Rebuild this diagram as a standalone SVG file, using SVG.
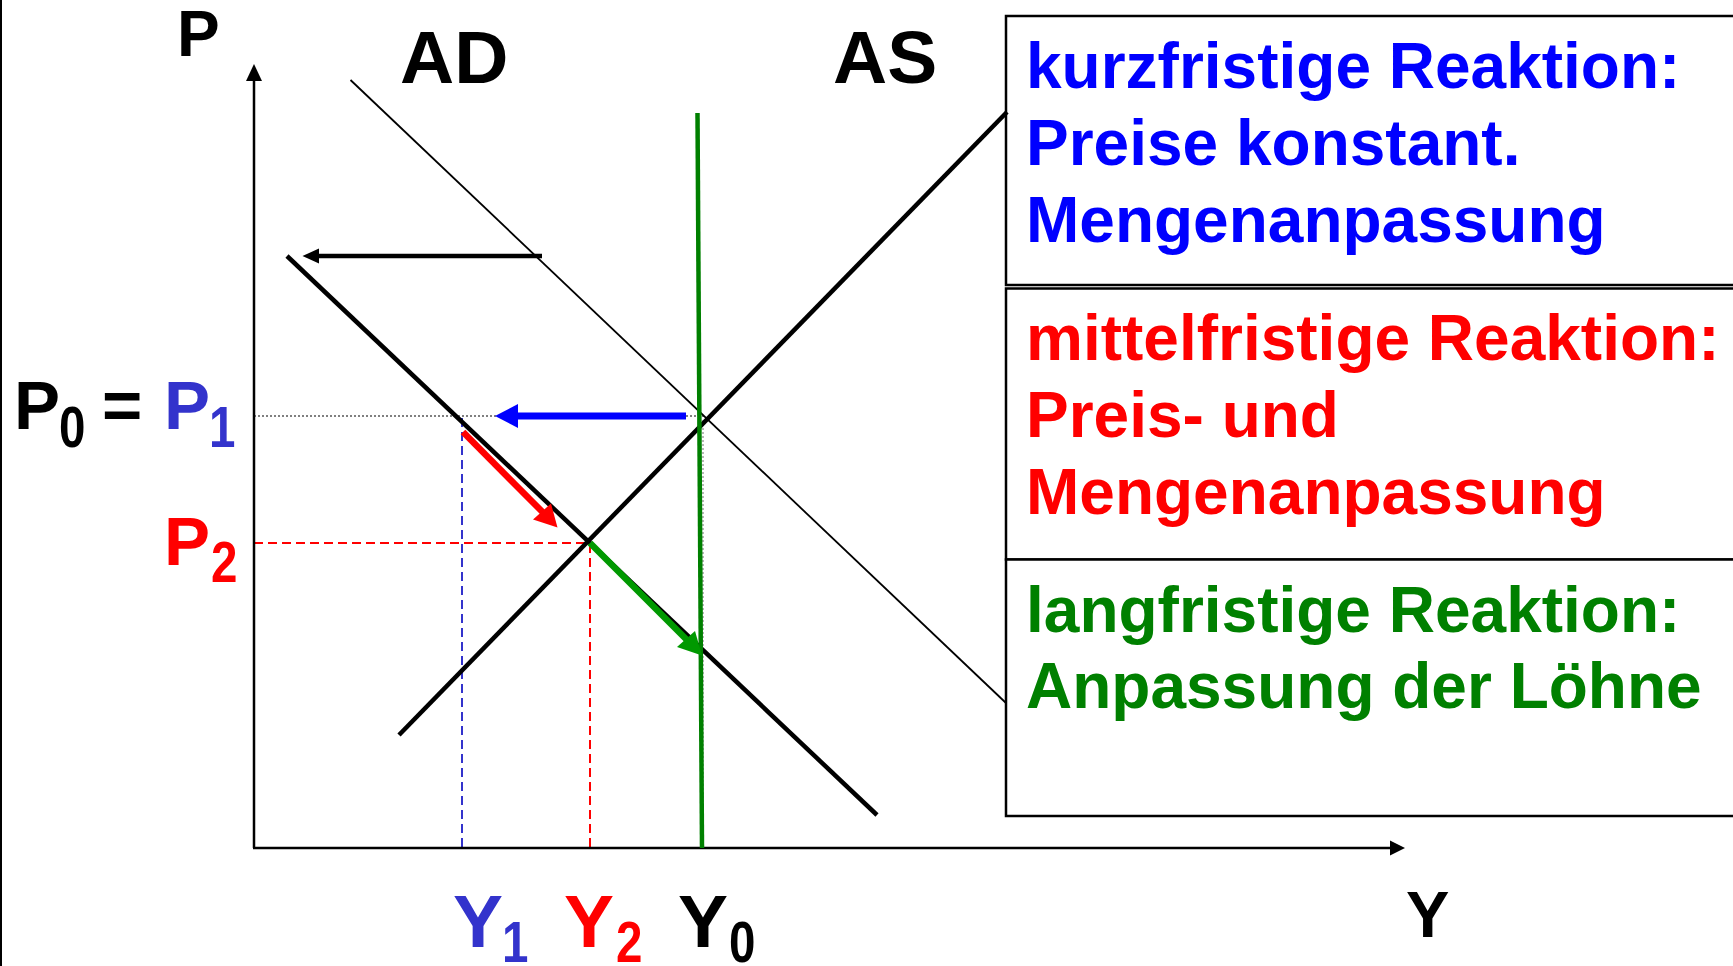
<svg xmlns="http://www.w3.org/2000/svg" width="1733" height="966" viewBox="0 0 1733 966">
<style>
text{font-family:"Liberation Sans",Arial,sans-serif;font-weight:bold}
.box{fill:#fff;stroke:#000;stroke-width:2.5}
.axis{stroke:#000;stroke-width:2.5;fill:none}
.curve{stroke:#000;stroke-width:4.5;fill:none}
.thin{stroke:#000;stroke-width:1.8;fill:none}
.bt{fill:#0000ff;font-size:64px}
.rt{fill:#ff0000;font-size:64px}
.gt{fill:#008000;font-size:64px}
.sub{font-size:58px}
</style>
<rect x="0" y="0" width="1733" height="966" fill="#fff"/>
<line x1="1" y1="0" x2="1" y2="966" stroke="#000" stroke-width="2"/>

<g id="boxes">
<g id="box-kurz">
<rect class="box" x="1006" y="16" width="800" height="269"/>
<text class="bt"><tspan x="1026" y="88">kurzfristige Reaktion:</tspan><tspan x="1026" y="165">Preise konstant.</tspan><tspan x="1026" y="242">Mengenanpassung</tspan></text>
</g>
<g id="box-mittel">
<rect class="box" x="1006" y="288.5" width="800" height="271"/>
<text class="rt"><tspan x="1026" y="360">mittelfristige Reaktion:</tspan><tspan x="1026" y="437">Preis- und</tspan><tspan x="1026" y="514">Mengenanpassung</tspan></text>
</g>
<g id="box-lang">
<rect class="box" x="1006" y="559.5" width="800" height="256.5"/>
<text class="gt"><tspan x="1026" y="632">langfristige Reaktion:</tspan><tspan x="1026" y="708">Anpassung der Löhne</tspan></text>
</g>
</g>

<g id="guides">
<line x1="254" y1="416" x2="704" y2="416" stroke="#808080" stroke-width="2" stroke-dasharray="2 2"/>
<line x1="703" y1="420" x2="703" y2="848" stroke="#a0a0a0" stroke-width="1.5" stroke-dasharray="2 2"/>
<line x1="462" y1="418" x2="462" y2="848" stroke="#3333cc" stroke-width="2" stroke-dasharray="9 5"/>
<line x1="254" y1="543" x2="589" y2="543" stroke="#ff0000" stroke-width="2" stroke-dasharray="9 5"/>
<line x1="590" y1="544" x2="590" y2="848" stroke="#ff0000" stroke-width="2" stroke-dasharray="9 5"/>
</g>

<g id="axes">
<line class="axis" x1="254" y1="848" x2="254" y2="80"/>
<polygon points="254,64 246,81 262,81" fill="#000"/>
<line class="axis" x1="253" y1="848" x2="1392" y2="848"/>
<polygon points="1405,848 1390,840.5 1390,855.5" fill="#000"/>
</g>

<g id="curves">
<line id="AD0" class="thin" x1="350.5" y1="80" x2="1006" y2="703"/>
<line id="AD1" class="curve" x1="287" y1="256" x2="877" y2="815"/>
<line id="AS" class="curve" x1="399" y1="735" x2="1007" y2="112"/>
<line id="LAS" x1="697.5" y1="113" x2="702" y2="848" stroke="#008000" stroke-width="4.5"/>
</g>

<g id="connectors">
<line x1="542" y1="256" x2="317" y2="256" stroke="#000" stroke-width="4.5"/>
<polygon points="302.5,256 319,248.5 319,263.5" fill="#000"/>
<line x1="686" y1="416" x2="516" y2="416" stroke="#0000ff" stroke-width="7"/>
<polygon points="495,416 518,404 518,428" fill="#0000ff"/>
<line x1="463" y1="432" x2="543" y2="512.5" stroke="#ff0000" stroke-width="6.5"/>
<polygon points="557.5,527.5 533,519.5 551,503.5" fill="#ff0000"/>
<line x1="590" y1="543" x2="687" y2="640" stroke="#009900" stroke-width="6.5"/>
<polygon points="702,655.5 677,647 695,631" fill="#009900"/>
</g>

<g id="labels">
<text x="177" y="56" font-size="64" fill="#000">P</text>
<text x="400" y="83" font-size="75" fill="#000">AD</text>
<text x="833" y="83" font-size="75" fill="#000">AS</text>
<g id="label-P0P1">
<text font-size="69"><tspan x="14" y="429" fill="#000">P</tspan><tspan x="102" y="429" fill="#000">=</tspan><tspan x="164" y="429" fill="#3333cc">P</tspan></text>
<text class="sub" fill="#000" transform="translate(59,447) scale(0.82,1)">0</text>
<text class="sub" fill="#3333cc" transform="translate(209,447) scale(0.82,1)">1</text>
</g>
<g id="label-P2">
<text x="164" y="565" font-size="69" fill="#ff0000">P</text>
<text class="sub" fill="#ff0000" transform="translate(211,582) scale(0.82,1)">2</text>
</g>
<g id="label-Y1">
<text x="453" y="947" font-size="75" fill="#3333cc">Y</text>
<text class="sub" fill="#3333cc" transform="translate(502,962) scale(0.82,1)">1</text>
</g>
<g id="label-Y2">
<text x="564" y="947" font-size="75" fill="#ff0000">Y</text>
<text class="sub" fill="#ff0000" transform="translate(616,962) scale(0.82,1)">2</text>
</g>
<g id="label-Y0">
<text x="678" y="947" font-size="75" fill="#000">Y</text>
<text class="sub" fill="#000" transform="translate(729,962) scale(0.82,1)">0</text>
</g>
<text x="1406" y="937" font-size="65" fill="#000">Y</text>
</g>
</svg>
